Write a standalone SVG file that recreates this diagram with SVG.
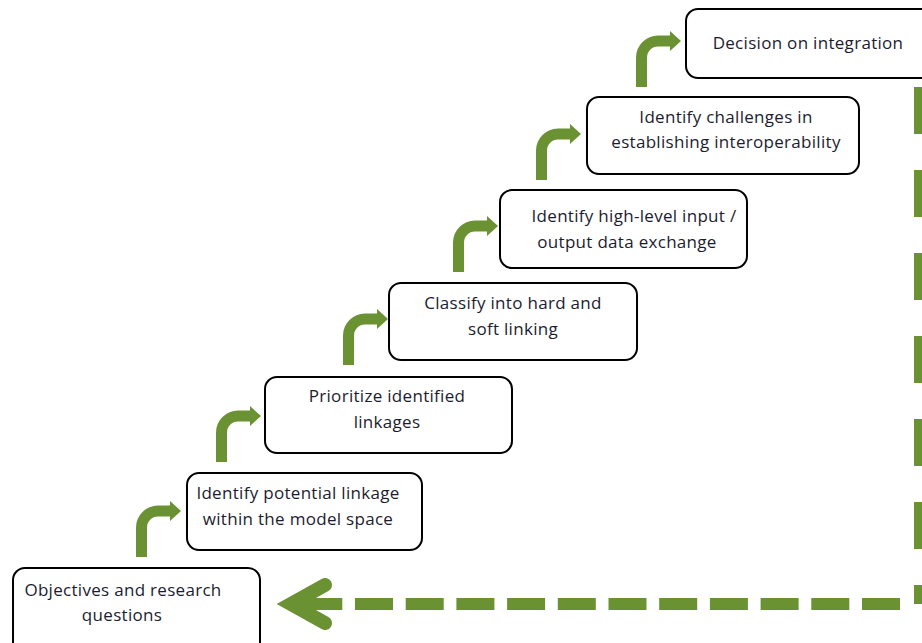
<svg xmlns="http://www.w3.org/2000/svg" width="922" height="643" viewBox="0 0 922 643">
<style>
.box{fill:#fff;stroke:#000;stroke-width:2}
.t{font-family:"Open Sans","Liberation Sans",sans-serif;font-size:17px;fill:#1c1c30;text-anchor:middle;letter-spacing:0.3px}
.bent{fill:#6a9232}
.dash{fill:none;stroke:#6a9232;stroke-width:12}
</style>
<defs>
<path id="bent" class="bent" d="M0,0 L0,-29.5 A22,22 0 0 1 22,-51.5 L34,-51.5 L34,-56 L45,-46 L34,-36 L34,-40.5 L22,-40.5 A11,11 0 0 0 11,-29.5 L11,0 Z"/>
</defs>
<rect width="922" height="643" fill="#fff"/>
<g id="connectors">
<use href="#bent" x="136" y="557"/>
<use href="#bent" x="216" y="462"/>
<use href="#bent" x="343" y="365"/>
<use href="#bent" x="453" y="272"/>
<use href="#bent" x="536" y="180"/>
<use href="#bent" x="636" y="87"/>
<line class="dash" x1="920" y1="87" x2="920" y2="604" stroke-dasharray="47 36"/>
<line class="dash" x1="900" y1="604" x2="304" y2="604" stroke-dasharray="38 12.7"/>
<polyline points="325,585 291,604 325,623" fill="none" stroke="#6a9232" stroke-width="14" stroke-linecap="round" stroke-linejoin="miter"/>
</g>
<g id="n1">
<rect class="box" x="13" y="568" width="247" height="95" rx="12"/>
<text class="t" x="123" y="596">Objectives and research</text>
<text class="t" x="122" y="621">questions</text>
</g>
<g id="n2">
<rect class="box" x="187" y="473" width="235" height="77" rx="12"/>
<text class="t" x="298" y="499">Identify potential linkage</text>
<text class="t" x="298" y="525">within the model space</text>
</g>
<g id="n3">
<rect class="box" x="265" y="377" width="247" height="76" rx="12"/>
<text class="t" x="387" y="402">Prioritize identified</text>
<text class="t" x="387" y="428">linkages</text>
</g>
<g id="n4">
<rect class="box" x="389" y="283" width="248" height="77" rx="12"/>
<text class="t" x="513" y="309">Classify into hard and</text>
<text class="t" x="513" y="335">soft linking</text>
</g>
<g id="n5">
<rect class="box" x="500" y="190" width="247" height="78" rx="12"/>
<text class="t" x="634" y="222">Identify high-level input /</text>
<text class="t" x="627" y="248">output data exchange</text>
</g>
<g id="n6">
<rect class="box" x="587" y="97" width="272" height="77" rx="12"/>
<text class="t" x="726" y="123">Identify challenges in</text>
<text class="t" x="726" y="148">establishing interoperability</text>
</g>
<g id="n7">
<rect class="box" x="686" y="9" width="260" height="69" rx="12"/>
<text class="t" x="808" y="49">Decision on integration</text>
</g>
</svg>
